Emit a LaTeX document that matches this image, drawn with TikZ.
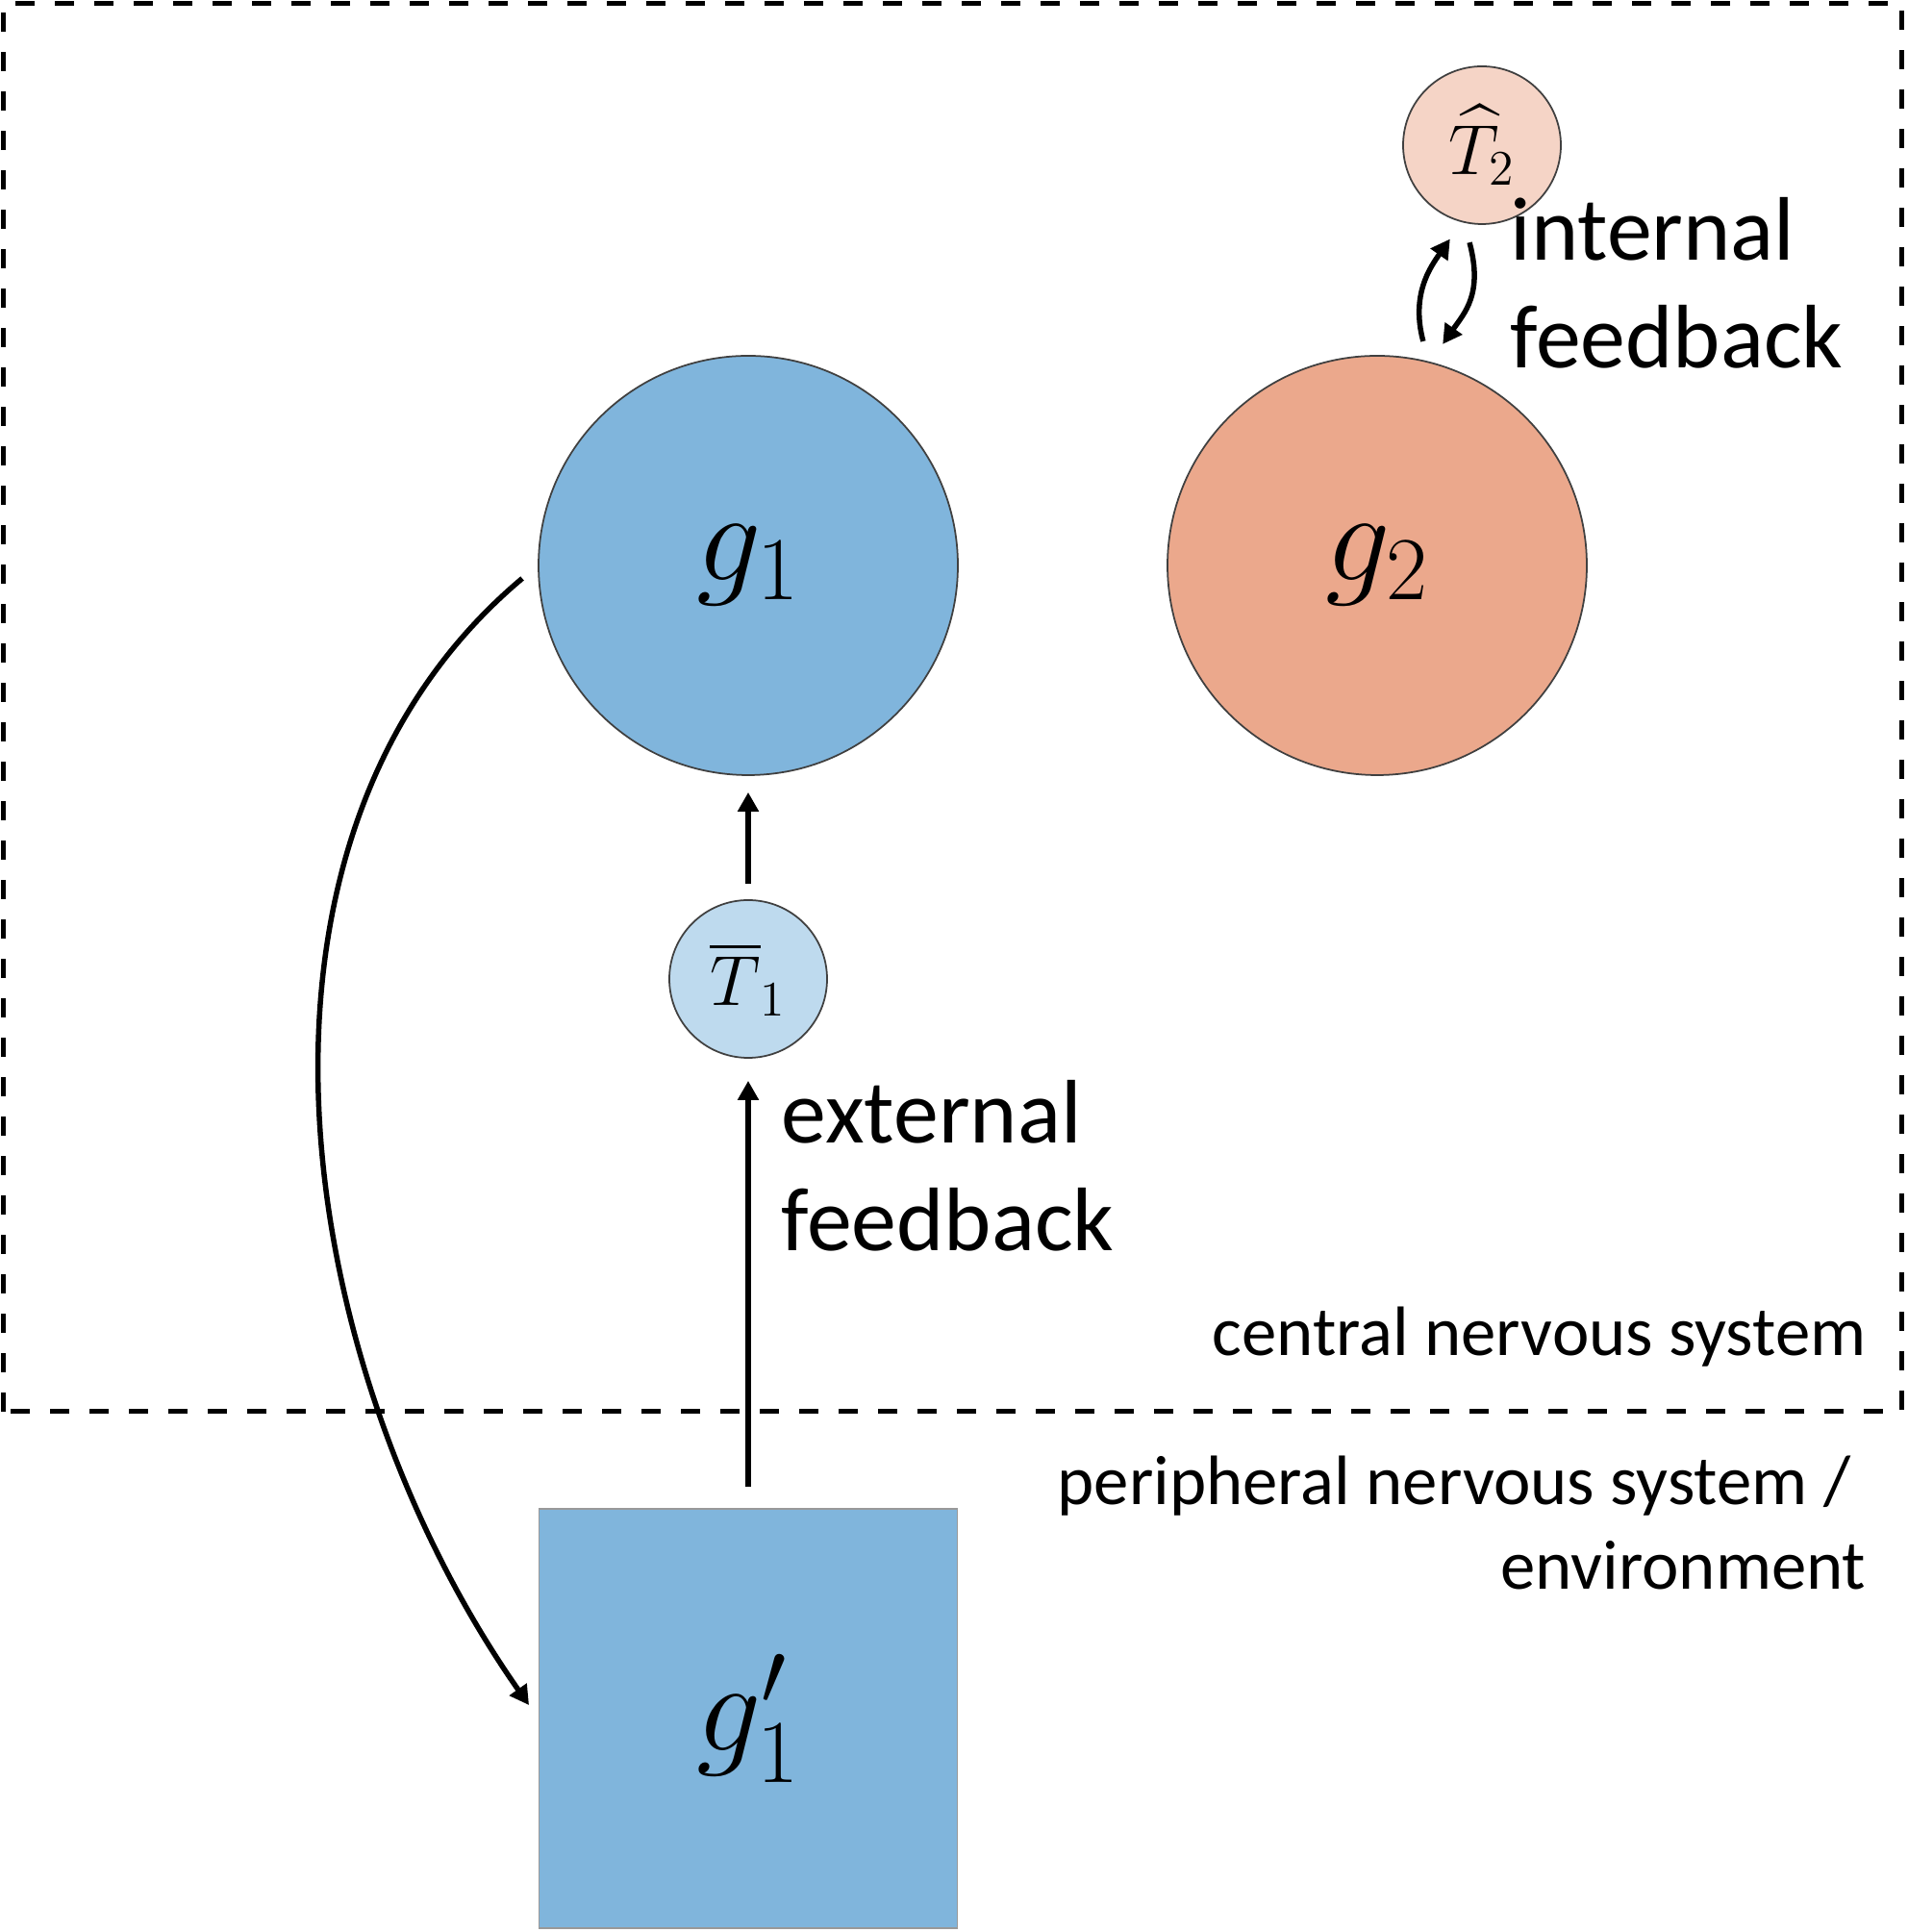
\RequirePackage{fix-cm}
\documentclass[tikz,border=0pt]{standalone}
\usepackage{amsmath}
\usepackage{amssymb}
\usepackage[no-math]{fontspec}
\setmainfont{Carlito}
\usepackage{tikz}
\usetikzlibrary{arrows.meta}

\definecolor{gonecol}{RGB}{128,181,220}
\definecolor{tonecol}{RGB}{190,218,238}
\definecolor{gtwocol}{RGB}{235,168,140}
\definecolor{ttwocol}{RGB}{245,212,198}

\begin{document}
\begin{tikzpicture}[x=1cm,y=1cm]
 \tikzstyle{every node}=[inner sep=0pt]
 \tikzstyle{bigball}=[circle,draw=black!75,line width=0.5pt,minimum size=4.36cm,font=\fontsize{38}{44}\selectfont]
 \tikzstyle{smallball}=[circle,draw=black!75,line width=0.5pt,minimum size=1.64cm,font=\fontsize{21}{25}\selectfont]
 \tikzstyle{plant}=[rectangle,draw=black!40,line width=0.4pt,minimum width=4.35cm,minimum height=4.36cm,font=\fontsize{38}{44}\selectfont]
 \tikzstyle{arr}=[-{Triangle[length=0.2cm,width=0.21cm]},line width=0.055cm]
 \tikzstyle{bigtext}=[align=left,font=\fontsize{26.7}{32}\selectfont]
 \tikzstyle{smalltext}=[align=right,font=\fontsize{20.7}{25.2}\selectfont]
 \useasboundingbox (0,0) rectangle (19.83,20.09);
 \draw[line width=0.05cm,dash pattern=on 0.2cm off 0.21cm]
 (0.04,5.41) rectangle (19.77,20.05);
 \path
 (7.78,14.21) node[bigball,fill=gonecol]  (g1)  {$g_1$}
 ++(0,-4.30)  node[smallball,fill=tonecol] (T1) {$\overline{T}_1$}
 ++(0,-7.69)  node[plant,fill=gonecol]    (g1p) {$g_1'$}
 ;
 \path
 (g1)
 ++(6.54,0)   node[bigball,fill=gtwocol]  (g2)  {$g_2$}
 ++(1.09,4.37) node[smallball,fill=ttwocol] (T2) {$\widehat{T}_2$}
 ;
 \path[every edge/.style={draw,arr}]
 (T1) edge[shorten <=0.16cm,shorten >=0.17cm] (g1)
 (g1p) edge[shorten <=0.22cm,shorten >=0.23cm] (T1)
 (g1.west) edge[out=220,in=125,looseness=0.95,shorten <=0.21cm,shorten >=0.17cm] (g1p.west)
 ;
 % loop between g2 and its internal model
 \path (g2) ++(78.4:2.38) coordinate (gtwoup);
 \path (g2) ++(73.5:2.40) coordinate (gtwoin);
 \path (T2) ++(251.2:1.03) coordinate (ttwoin);
 \path (T2) ++(262.7:1.02) coordinate (ttwodown);
 \draw[arr] (gtwoup) .. controls +(105:0.5) and +(235:0.36) .. (ttwoin);
 \draw[arr] (ttwodown) .. controls +(-75:0.55) and +(55:0.4) .. (gtwoin);
 \node[bigtext,anchor=base west] (intfb) at (15.70,16.26) {internal\\feedback};
 \node[bigtext,anchor=base west] (extfb) at (8.12,7.08) {external\\feedback};
 \node[smalltext,anchor=base east] (cns) at (19.41,5.99) {central nervous system};
 \node[smalltext,anchor=base east] (pns) at (19.41,3.56) {peripheral nervous system /\hspace*{0.16cm}\\environment};
\end{tikzpicture}
\end{document}
